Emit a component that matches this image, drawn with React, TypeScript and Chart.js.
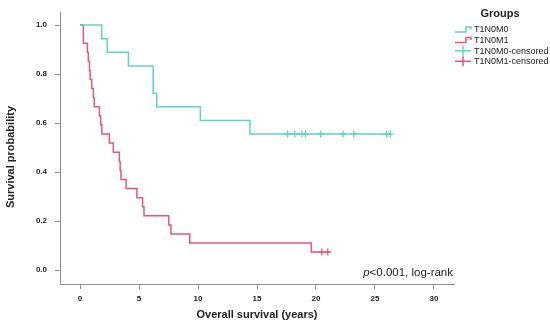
import React, { useEffect, useRef } from 'react';
import { Chart, registerables } from 'chart.js';

Chart.register(...registerables);

// ---- Data ----
const groupLabels = ['T1N0M0', 'T1N0M1'];
const legendLabels = ['T1N0M0', 'T1N0M1', 'T1N0M0-censored', 'T1N0M1-censored'];

const m0Times = [0, 1.84, 2.3, 4.1, 6.2, 6.5, 10.2, 14.4, 26.4];
const m0Surv = [1.0, 0.944, 0.889, 0.833, 0.722, 0.667, 0.611, 0.556, 0.556];
const m0CensorTimes = [17.6, 18.2, 18.8, 19.1, 20.4, 22.3, 23.2, 26.0, 26.3];
const m0CensorSurv = [0.556, 0.556, 0.556, 0.556, 0.556, 0.556, 0.556, 0.556, 0.556];

const m1Times = [0, 0.28, 0.62, 0.7, 0.8, 0.85, 0.99, 1.13, 1.2, 1.64, 1.75, 1.85, 2.48, 2.82, 3.33, 3.4, 3.47, 3.9, 4.82, 5.3, 5.42, 7.52, 7.7, 9.3, 19.6, 21.2];
const m1Surv = [1.0, 0.926, 0.889, 0.852, 0.815, 0.778, 0.741, 0.704, 0.667, 0.63, 0.593, 0.556, 0.519, 0.481, 0.444, 0.407, 0.37, 0.333, 0.296, 0.259, 0.222, 0.185, 0.148, 0.111, 0.074, 0.074];
const m1CensorTimes = [20.5, 21.0];
const m1CensorSurv = [0.074, 0.074];

const xTicks = [0, 5, 10, 15, 20, 25, 30];
const yTicks = [0, 0.2, 0.4, 0.6, 0.8, 1.0];

const xTitle = 'Overall survival (years)';
const yTitle = 'Survival probability';
const legendTitle = 'Groups';
const pText = '<0.001, log-rank';

const TEAL = '#5dd5c3';
const RED = '#e6577b';
const AXIS = '#8f8f8f';
const FONT = "'Liberation Sans', Arial, sans-serif";

const toPts = (xs: number[], ys: number[]) => xs.map((x, i) => ({ x, y: ys[i] }));

const extrasPlugin = {
  id: 'extras',
  afterDraw(chart: any) {
    const ctx = chart.ctx as CanvasRenderingContext2D;
    ctx.save();
    // Y title
    ctx.translate(11, 157);
    ctx.rotate(-Math.PI / 2);
    ctx.font = `bold 11px ${FONT}`;
    ctx.fillStyle = '#222';
    ctx.textAlign = 'center';
    ctx.textBaseline = 'middle';
    ctx.fillText(yTitle, 0, 0);
    ctx.restore();

    // Legend
    ctx.save();
    ctx.font = `bold 11px ${FONT}`;
    ctx.fillStyle = '#222';
    ctx.textAlign = 'center';
    ctx.textBaseline = 'middle';
    ctx.fillText(legendTitle, 500, 14);
    const colors = [TEAL, RED, TEAL, RED];
    const ys = [29.5, 40, 50.7, 61.3];
    ctx.font = `9px ${FONT}`;
    ctx.textAlign = 'left';
    legendLabels.forEach((lab, i) => {
      const y = ys[i];
      ctx.strokeStyle = colors[i];
      ctx.lineWidth = 1.5;
      ctx.beginPath();
      if (i < 2) {
        ctx.moveTo(455, y + 2.5);
        ctx.lineTo(466, y + 2.5);
        ctx.lineTo(466, y - 2.5);
        ctx.lineTo(471, y - 2.5);
        ctx.lineTo(471, y);
      } else {
        ctx.moveTo(455, y);
        ctx.lineTo(471, y);
        ctx.moveTo(463, y - 5);
        ctx.lineTo(463, y + 5);
      }
      ctx.stroke();
      ctx.fillStyle = '#222';
      ctx.fillText(lab, 474, y + 0.5);
    });
    ctx.restore();

    // p-value text
    ctx.save();
    ctx.textBaseline = 'middle';
    ctx.textAlign = 'right';
    ctx.fillStyle = '#222';
    ctx.font = `11.5px ${FONT}`;
    const right = 453;
    const w = ctx.measureText(pText).width;
    ctx.fillText(pText, right, 273);
    ctx.font = `italic 11.5px ${FONT}`;
    ctx.fillText('p', right - w, 273);
    ctx.restore();
  },
};

export default function App() {
  const ref = useRef<HTMLCanvasElement | null>(null);

  useEffect(() => {
    document.body.style.margin = '0';
    if (!ref.current) return;
    const chart = new Chart(ref.current, {
      type: 'scatter',
      data: {
        datasets: [
          {
            label: groupLabels[0],
            data: toPts(m0Times, m0Surv),
            showLine: true,
            stepped: 'before',
            borderColor: TEAL,
            borderWidth: 1.5,
            pointRadius: 0,
            fill: false,
          },
          {
            label: groupLabels[1],
            data: toPts(m1Times, m1Surv),
            showLine: true,
            stepped: 'before',
            borderColor: RED,
            borderWidth: 1.5,
            pointRadius: 0,
            fill: false,
          },
          {
            label: groupLabels[0] + '-censored',
            data: toPts(m0CensorTimes, m0CensorSurv),
            showLine: false,
            pointStyle: 'cross',
            pointRadius: 3.5,
            pointBorderWidth: 1.3,
            borderColor: TEAL,
            backgroundColor: TEAL,
          },
          {
            label: groupLabels[1] + '-censored',
            data: toPts(m1CensorTimes, m1CensorSurv),
            showLine: false,
            pointStyle: 'cross',
            pointRadius: 3.5,
            pointBorderWidth: 1.3,
            borderColor: RED,
            backgroundColor: RED,
          },
        ],
      },
      options: {
        responsive: false,
        animation: false,
        layout: { padding: { top: 5, right: 96, left: 0, bottom: 0 } },
        plugins: {
          legend: { display: false },
          tooltip: { enabled: false },
        },
        scales: {
          x: {
            type: 'linear',
            min: -1.7,
            max: 31.7,
            afterBuildTicks: (axis: any) => {
              axis.ticks = xTicks.map((v) => ({ value: v }));
            },
            afterFit: (scale: any) => {
              scale.height = 41;
            },
            border: { display: true, color: AXIS, width: 1 },
            grid: { display: true, drawOnChartArea: false, drawTicks: true, tickLength: 5, color: AXIS },
            ticks: {
              font: { family: FONT, size: 8, weight: 'bold' },
              color: '#222',
              padding: 5,
              maxRotation: 0,
              callback: (v: any) => String(v),
            },
            title: {
              display: true,
              text: xTitle,
              font: { family: FONT, size: 11, weight: 'bold' },
              color: '#222',
              padding: { top: 0, bottom: 3 },
            },
          },
          y: {
            type: 'linear',
            min: -0.056,
            max: 1.05,
            afterBuildTicks: (axis: any) => {
              axis.ticks = yTicks.map((v) => ({ value: v }));
            },
            afterFit: (scale: any) => {
              scale.width = 60;
            },
            border: { display: true, color: AXIS, width: 1 },
            grid: { display: true, drawOnChartArea: false, drawTicks: true, tickLength: 5, color: AXIS },
            ticks: {
              font: { family: FONT, size: 8, weight: 'bold' },
              color: '#222',
              padding: 8,
              callback: (v: any) => Number(v).toFixed(1),
            },
            title: { display: false },
          },
        },
      },
      plugins: [extrasPlugin],
    } as any);
    return () => chart.destroy();
  }, []);

  return (
    <div style={{ width: 550, height: 325, background: '#fff' }}>
      <canvas ref={ref} width={550} height={325} style={{ display: 'block' }} />
    </div>
  );
}
